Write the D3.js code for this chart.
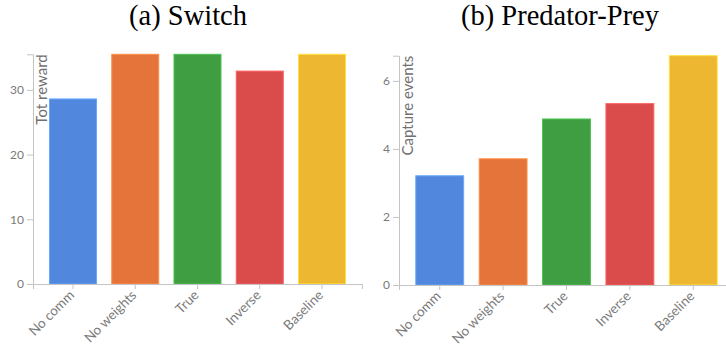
<!DOCTYPE html>
<html>
<head>
<meta charset="utf-8">
<script src="https://cdn.jsdelivr.net/npm/d3@7"></script>
<style>
  html, body { margin: 0; padding: 0; background: #fff; }
  svg { display: block; }
  .axis path, .axis line { stroke: #c4c4c4; }
  .axis text { fill: #7a7a7a; font-family: Lato, "Open Sans", sans-serif; }
</style>
</head>
<body>
<svg id="chart" width="726" height="345"></svg>
<script>
// Methods compared in both panels
const categories = ["No comm", "No weights", "True", "Inverse", "Baseline"];
const colors = ["#5287de", "#e4743a", "#3e9e41", "#da4b4c", "#edb731"];

// Panel (a): total reward in the Switch task
const switchValues = [28.6, 35.5, 35.5, 32.9, 35.5];
const switchTicks = [0, 10, 20, 30];

// Panel (b): capture events in the Predator-Prey task
const preyValues = [3.21, 3.71, 4.88, 5.33, 6.74];
const preyTicks = [0, 2, 4, 6];

const svg = d3.select("#chart");

function panel(opts) {
  const g = svg.append("g");

  const x = d3.scaleBand()
    .domain(categories)
    .range([opts.x0, opts.x1])
    .paddingInner(0.245)
    .paddingOuter(0.265);

  const y = d3.scaleLinear()
    .domain([0, d3.max(opts.values)])
    .range([opts.y0, opts.y1]);

  // bars
  g.selectAll("rect")
    .data(opts.values)
    .join("rect")
    .attr("x", (d, i) => x(categories[i]))
    .attr("width", x.bandwidth())
    .attr("y", d => y(d))
    .attr("height", d => y(0) - y(d))
    .attr("fill", (d, i) => colors[i])
    .attr("stroke", (d, i) => d3.color(colors[i]).brighter(0.6))
    .attr("stroke-width", 1);

  // x axis with slanted labels
  const xa = g.append("g")
    .attr("class", "axis")
    .attr("transform", `translate(0,${opts.y0})`)
    .call(d3.axisBottom(x).tickSizeOuter(0).tickSize(5));
  xa.selectAll("text")
    .style("font-size", "13.5px")
    .attr("text-anchor", "end")
    .attr("x", 0)
    .attr("y", 0)
    .attr("dy", 0)
    .attr("transform", "translate(2,12) rotate(-45)");

  // y axis
  const ya = g.append("g")
    .attr("class", "axis")
    .attr("transform", `translate(${opts.x0},0)`)
    .call(d3.axisLeft(y).tickValues(opts.ticks).tickFormat(d3.format("d"))
      .tickSizeOuter(0).tickSize(6).tickPadding(3));
  ya.selectAll("text").style("font-size", "12px");

  // y axis title
  g.append("text")
    .attr("transform", `translate(${opts.x0 + 14},${opts.y1}) rotate(-90)`)
    .attr("text-anchor", "end")
    .attr("fill", "#707070")
    .style("font-family", "Lato, 'Open Sans', sans-serif")
    .style("font-size", "15px")
    .text(opts.yTitle);

  // panel title
  svg.append("text")
    .attr("x", opts.titleX)
    .attr("y", 25)
    .attr("text-anchor", "middle")
    .attr("fill", "#000")
    .style("font-family", "'Liberation Serif', 'Times New Roman', serif")
    .style("font-size", "28.5px")
    .text(opts.title);
}

panel({
  values: switchValues, ticks: switchTicks,
  x0: 33, x1: 362, y0: 284, y1: 54.3,
  yTitle: "Tot reward", title: "(a) Switch", titleX: 188
});

panel({
  values: preyValues, ticks: preyTicks,
  x0: 399, x1: 734, y0: 285, y1: 55.7,
  yTitle: "Capture events", title: "(b) Predator-Prey", titleX: 560
});
</script>
</body>
</html>
